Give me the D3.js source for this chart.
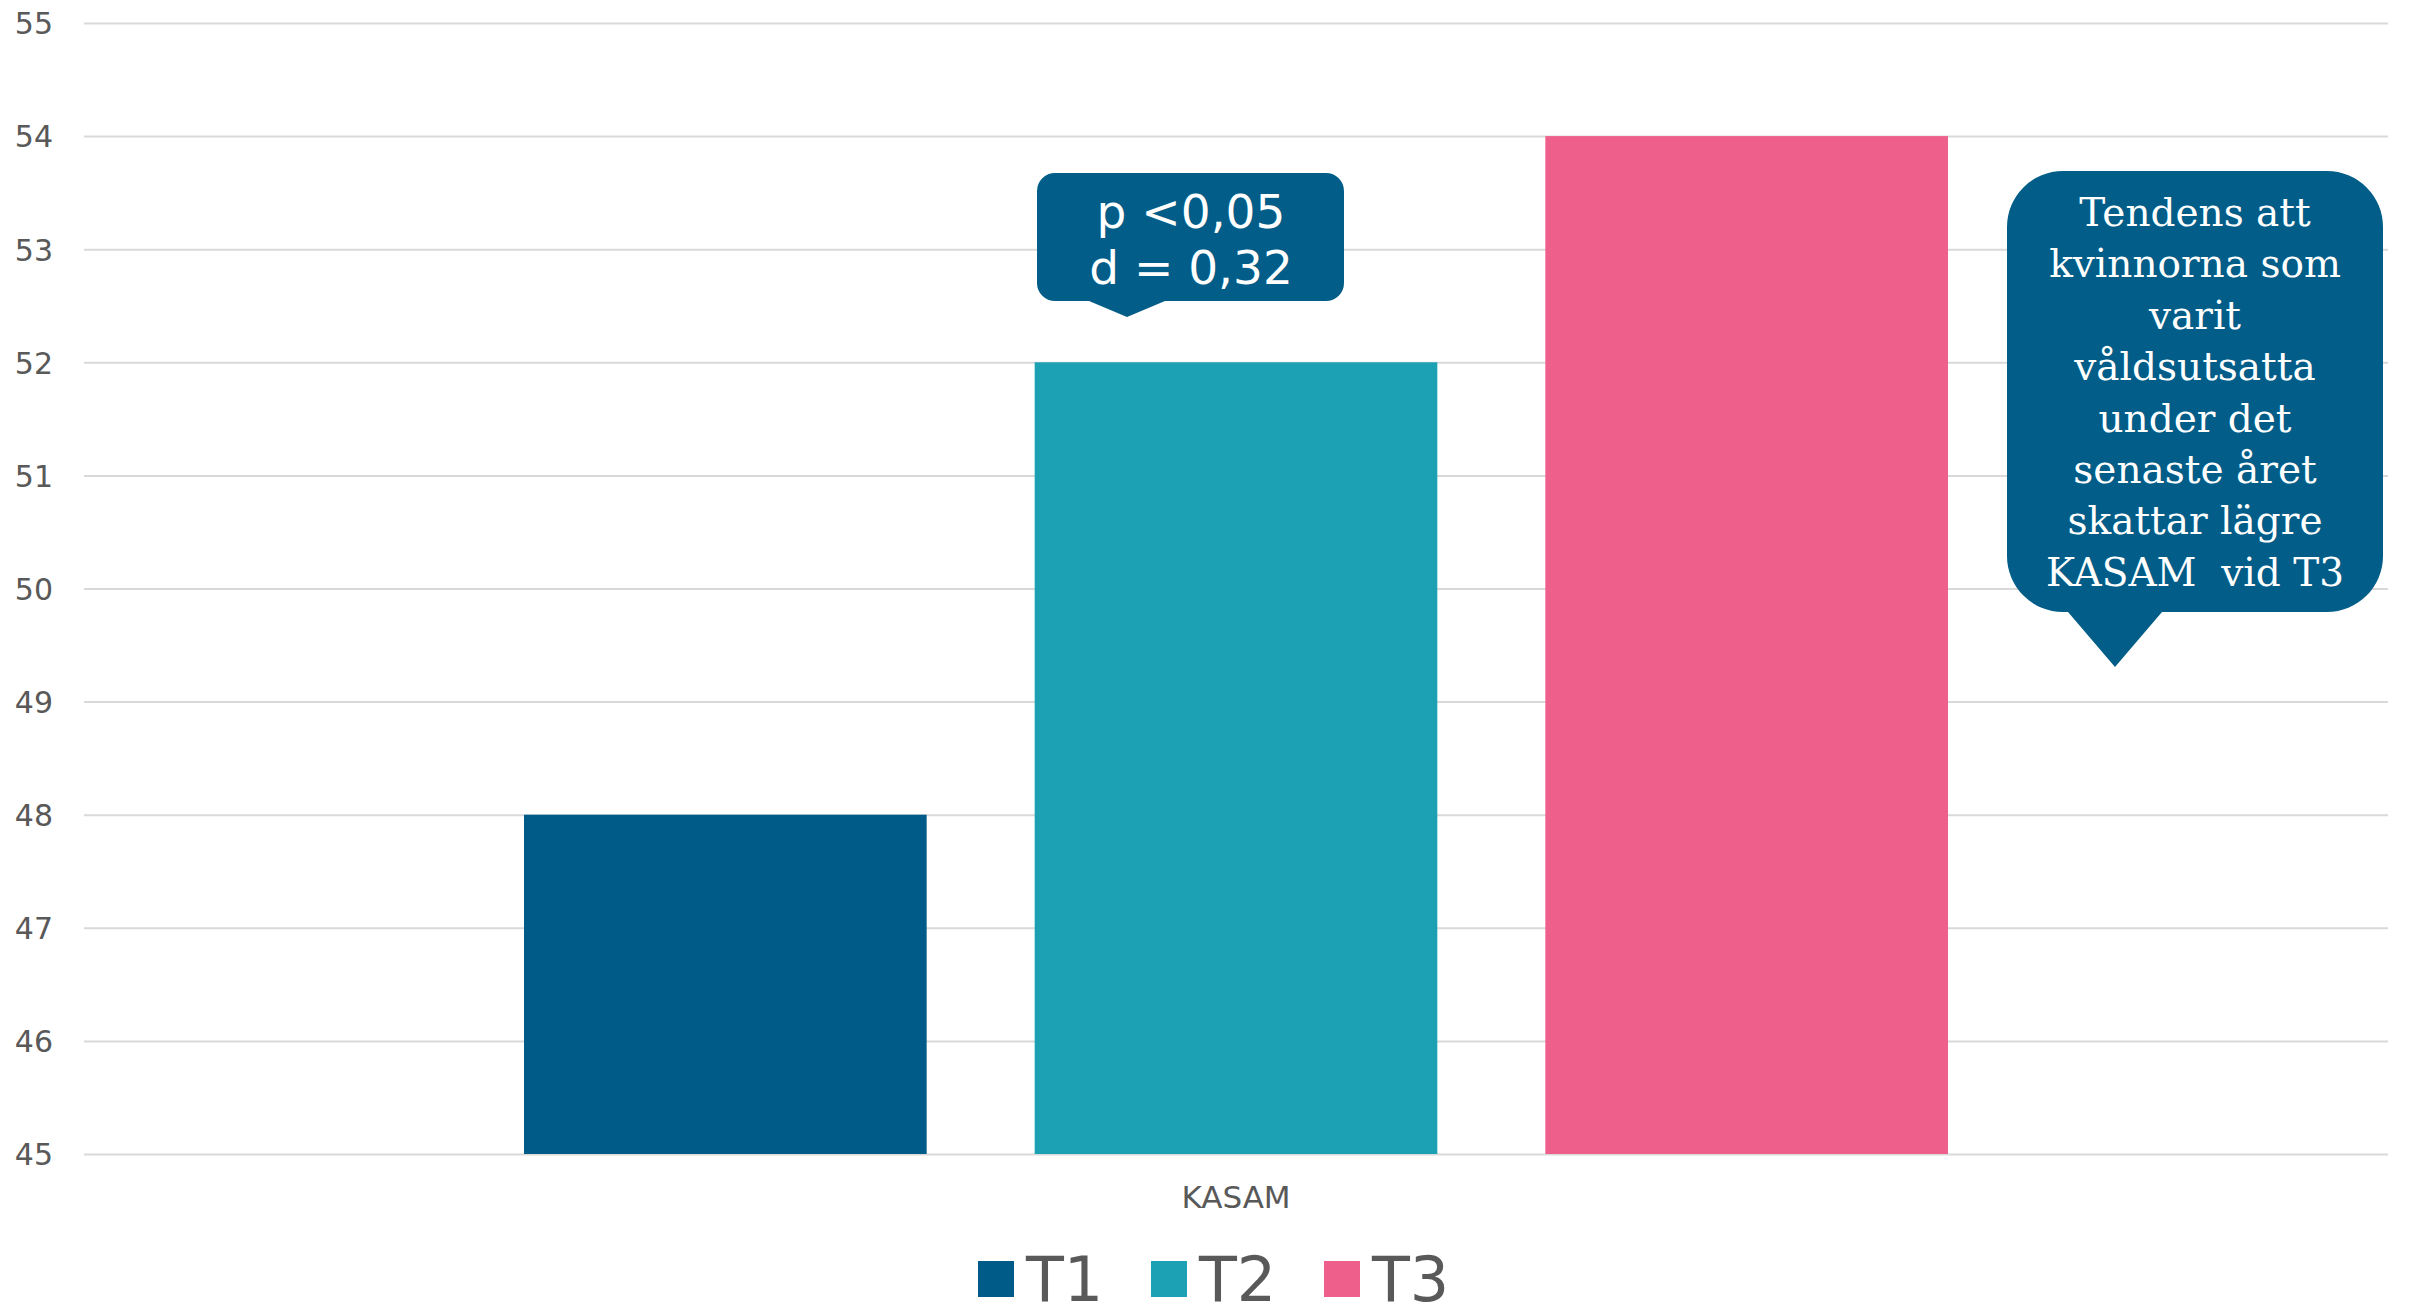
<!DOCTYPE html>
<html>
<head>
<meta charset="utf-8">
<script src="https://cdn.jsdelivr.net/npm/d3@7"></script>
<style>
  html, body { margin: 0; padding: 0; background: #fff; }
  svg { display: block; }
</style>
</head>
<body>
<div id="chart"></div>
<script>
// data
const categories = ["KASAM"];
const seriesNames = ["T1", "T2", "T3"];
const seriesValues = [48, 52, 54];
const seriesColors = ["#005b88", "#1ca0b4", "#ee5f8c"];
const yTicks = [45, 46, 47, 48, 49, 50, 51, 52, 53, 54, 55];
const note1Lines = ["p <0,05", "d = 0,32"];
const note2Lines = ["Tendens att", "kvinnorna som", "varit", "våldsutsatta", "under det", "senaste året", "skattar lägre", "KASAM  vid T3"];

// dimensions
var W = 2412, H = 1306;
var margin = {top: 23, right: 24, bottom: 152, left: 84},
    width = W - margin.left - margin.right,
    height = H - margin.top - margin.bottom;

var svg = d3.select("#chart")
  .append("svg")
    .attr("width", W)
    .attr("height", H);

var g = svg.append("g")
    .attr("transform", "translate(" + margin.left + "," + margin.top + ")");

// scales
const y = d3.scaleLinear()
  .domain([45, 55])
  .range([height, 0]);

const x0 = d3.scaleBand()
  .domain(categories)
  .range([0, width])
  .paddingInner(0)
  .paddingOuter(0.309);

const x1 = d3.scaleBand()
  .domain(seriesNames)
  .range([0, x0.bandwidth()])
  .paddingInner(0.2115)
  .paddingOuter(0);

const color = d3.scaleOrdinal()
  .domain(seriesNames)
  .range(seriesColors);

// gridlines + y labels
const yAxis = g.append("g")
  .call(d3.axisLeft(y).tickValues(yTicks).tickSize(-width).tickPadding(31).tickFormat(d3.format("d")));
yAxis.select(".domain").remove();
yAxis.selectAll(".tick line")
  .attr("stroke", "#d9d9d9")
  .attr("stroke-width", 2);
yAxis.selectAll(".tick text")
  .attr("fill", "#595959")
  .style("font-family", "'DejaVu Sans', Verdana, sans-serif")
  .style("font-size", "30px")
  .attr("dy", "0.36em");

// bars
const rows = categories.map(c => seriesNames.map((s, i) => ({cat: c, key: s, value: seriesValues[i]})));
g.selectAll(".cat")
  .data(rows)
  .join("g")
  .attr("class", "cat")
  .attr("transform", (d, i) => `translate(${x0(categories[i])},0)`)
  .selectAll("rect")
  .data(d => d)
  .join("rect")
  .attr("x", d => x1(d.key))
  .attr("width", x1.bandwidth())
  .attr("y", d => y(d.value))
  .attr("height", d => y(45) - y(d.value))
  .attr("fill", d => color(d.key));

// category label
g.selectAll(".cat-label")
  .data(categories)
  .join("text")
  .attr("class", "cat-label")
  .attr("x", d => x0(d) + x0.bandwidth() / 2)
  .attr("y", height + 54)
  .attr("text-anchor", "middle")
  .attr("fill", "#595959")
  .style("font-family", "'DejaVu Sans', Verdana, sans-serif")
  .style("font-size", "31px")
  .text(d => d);

// legend
const legend = svg.append("g")
  .attr("transform", "translate(978,1261)");
const item = legend.selectAll(".leg")
  .data(seriesNames)
  .join("g")
  .attr("class", "leg")
  .attr("transform", (d, i) => `translate(${i * 173},0)`);
item.append("rect")
  .attr("width", 36)
  .attr("height", 36)
  .attr("fill", d => color(d));
item.append("text")
  .attr("x", 48)
  .attr("y", 40)
  .attr("fill", "#595959")
  .style("font-family", "'DejaVu Sans', Verdana, sans-serif")
  .style("font-size", "62px")
  .text(d => d);

// speech bubble path: rounded box with a pointer at the bottom
function bubble(x0, y0, x1, y1, r, t0, t1, tx, ty) {
  return `M${x0 + r},${y0} H${x1 - r} A${r},${r} 0 0 1 ${x1},${y0 + r}` +
    ` V${y1 - r} A${r},${r} 0 0 1 ${x1 - r},${y1}` +
    ` H${t1} L${tx},${ty} L${t0},${y1}` +
    ` H${x0 + r} A${r},${r} 0 0 1 ${x0},${y1 - r}` +
    ` V${y0 + r} A${r},${r} 0 0 1 ${x0 + r},${y0} Z`;
}

// note over T2
svg.append("path")
  .attr("d", bubble(1037, 173, 1344, 301, 18, 1089, 1165, 1127, 317))
  .attr("fill", "#025d88");
svg.append("g").selectAll("text")
  .data(note1Lines)
  .join("text")
  .attr("x", 1191)
  .attr("y", (d, i) => 228 + i * 56)
  .attr("text-anchor", "middle")
  .attr("fill", "#fff")
  .style("font-family", "'DejaVu Sans', Verdana, sans-serif")
  .style("font-size", "47px")
  .text(d => d);

// note on the right
svg.append("path")
  .attr("d", bubble(2007, 171, 2383, 612, 56, 2068, 2162, 2115, 667))
  .attr("fill", "#025d88");
svg.append("g").selectAll("text")
  .data(note2Lines)
  .join("text")
  .attr("x", 2195)
  .attr("y", (d, i) => 226 + i * 51.4)
  .attr("text-anchor", "middle")
  .attr("fill", "#fff")
  .style("font-family", "'DejaVu Serif', Georgia, serif")
  .style("font-size", "39px")
  .style("white-space", "pre")
  .attr("xml:space", "preserve")
  .text(d => d);
</script>
</body>
</html>
